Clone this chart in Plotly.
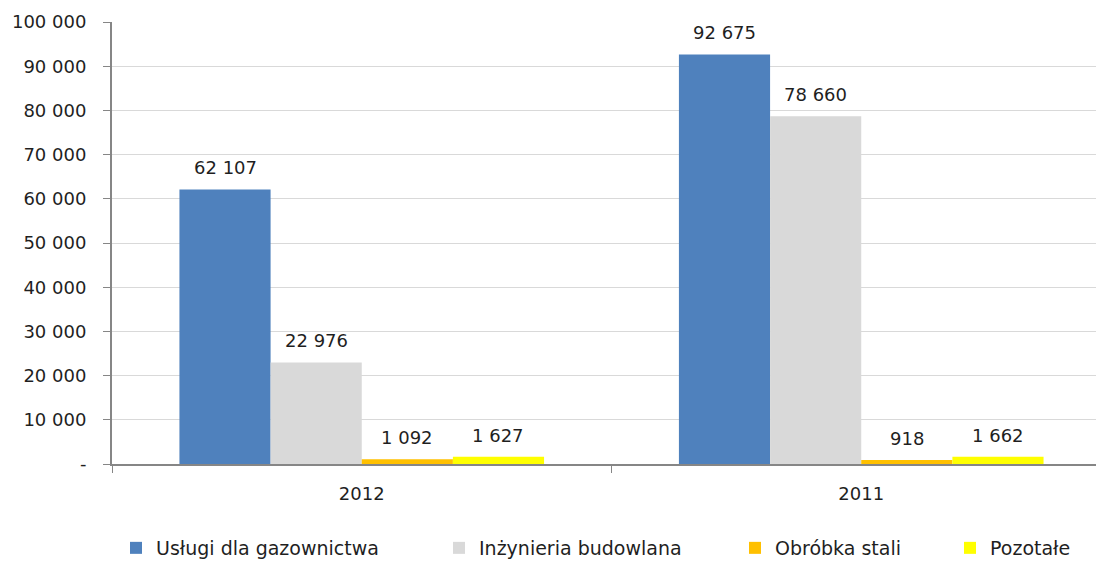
import plotly.graph_objects as go

# Revenue by business segment, 2012 vs 2011
years = ["2012", "2011"]
series_names = ["Usługi dla gazownictwa", "Inżynieria budowlana", "Obróbka stali", "Pozotałe"]
gazownictwo = [62107, 92675]
inzynieria = [22976, 78660]
obrobka = [1092, 918]
pozostale = [1627, 1662]
y_tick_values = [0, 10000, 20000, 30000, 40000, 50000, 60000, 70000, 80000, 90000, 100000]
y_tick_labels = ["-", "10 000", "20 000", "30 000", "40 000", "50 000",
                 "60 000", "70 000", "80 000", "90 000", "100 000"]

colors = ["#4F81BD", "#D9D9D9", "#FFC000", "#FFFF00"]
FONT = "DejaVu Sans"
FS = 18
TXT = "#1f1f1f"
BARGAP = 0.27
W, H = 1096, 567
ML, MR, MT, MB = 112, 0, 22, 100

# left edge (px) of each legend entry along the bottom row
legend_px = [116, 439, 735, 950]


def fmt(v):
    return f"{v:,}".replace(",", " ")


fig = go.Figure()
all_values = [gazownictwo, inzynieria, obrobka, pozostale]
legend_ids = ["legend", "legend2", "legend3", "legend4"]
for name, vals, col, lid in zip(series_names, all_values, colors, legend_ids):
    fig.add_trace(go.Bar(
        name=name, x=years, y=vals, marker=dict(color=col, line=dict(width=0)),
        legend=lid,
    ))

# value labels above each bar
n = len(all_values)
bar_w = (1 - BARGAP) / n
for i, vals in enumerate(all_values):
    for j, v in enumerate(vals):
        fig.add_annotation(
            x=j + (i - (n - 1) / 2) * bar_w, y=v, xref="x", yref="y",
            text=fmt(v), showarrow=False, yanchor="bottom", yshift=9,
            font=dict(family=FONT, size=FS, color=TXT),
        )

plot_w = W - ML - MR
plot_h = H - MT - MB
legend_y = -(552 - (H - MB)) / plot_h
legend_style = dict(
    orientation="h", xanchor="left", yanchor="middle", y=legend_y,
    font=dict(family=FONT, size=19, color=TXT), bgcolor="rgba(0,0,0,0)",
    itemwidth=30,
)
legends = {}
for lid, px in zip(legend_ids, legend_px):
    legends[lid] = dict(legend_style, x=(px - ML) / plot_w)

fig.update_layout(
    width=W, height=H,
    margin=dict(l=ML, r=MR, t=MT, b=MB),
    paper_bgcolor="white", plot_bgcolor="white",
    barmode="group", bargap=BARGAP, bargroupgap=0,
    font=dict(family=FONT, size=FS, color=TXT),
    showlegend=True,
    **legends,
)
fig.update_xaxes(
    type="category", range=[-0.5, 1.47],
    showline=True, linecolor="#868686", linewidth=2,
    ticks="outside", tickson="boundaries", ticklen=7, tickcolor="#868686", tickwidth=1,
    ticklabelstandoff=12,
    showgrid=False, tickfont=dict(family=FONT, size=FS, color=TXT),
)
fig.update_yaxes(
    range=[0, 100000], tickvals=y_tick_values, ticktext=y_tick_labels,
    showline=True, linecolor="#868686", linewidth=2,
    ticks="outside", ticklen=7, tickcolor="#868686", tickwidth=1,
    ticklabelstandoff=13,
    showgrid=True, gridcolor="#D9D9D9", gridwidth=1, zeroline=False,
    tickfont=dict(family=FONT, size=FS, color=TXT),
)

fig.write_html("out.html")
